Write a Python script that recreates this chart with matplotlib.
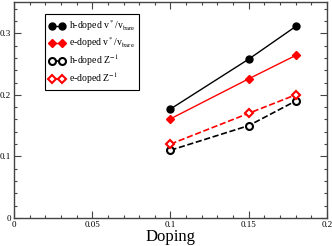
import matplotlib
matplotlib.use("Agg")
import matplotlib.pyplot as plt
from matplotlib.ticker import MultipleLocator, FuncFormatter

doping = [0.10, 0.15, 0.18]
h_v = [0.177, 0.258, 0.311]
e_v = [0.161, 0.226, 0.264]
h_z = [0.110, 0.150, 0.190]
e_z = [0.120, 0.170, 0.200]
labels = [r"h-doped v$^*$/v$_{\rm bare}$", r"e-doped v$^*$/v$_{\rm bare}$",
          r"h-doped Z$^{-1}$", r"e-doped Z$^{-1}$"]

plt.rcParams['font.family'] = ['Liberation Serif', 'DejaVu Serif']
plt.rcParams['mathtext.fontset'] = 'stix'

fig = plt.figure(figsize=(3.32, 2.46), dpi=100)
ax = fig.add_axes([0.042, 0.114, 0.943, 0.876])

ax.plot(doping, h_v, '-o', color='black', lw=1, ms=5, label=labels[0])
ax.plot(doping, e_v, '-D', color='red', lw=1, ms=4, label=labels[1])
ax.plot(doping, h_z, '--o', color='black', lw=1.2, ms=5, mfc='white', mew=1.5, label=labels[2])
ax.plot(doping, e_z, '--D', color='red', lw=1.2, ms=4, mfc='white', mew=1.5, label=labels[3])

ax.set_xlim(0, 0.2)
ax.set_ylim(0, 0.35)
ax.xaxis.set_major_locator(MultipleLocator(0.05))
ax.xaxis.set_minor_locator(MultipleLocator(0.01))
ax.yaxis.set_major_locator(MultipleLocator(0.1))
ax.yaxis.set_minor_locator(MultipleLocator(0.02))
fmt = FuncFormatter(lambda v, p: '%g' % round(v, 4))
ax.xaxis.set_major_formatter(fmt)
ax.yaxis.set_major_formatter(fmt)
ax.tick_params(which='both', direction='in', top=True, right=True, labelsize=6.5, pad=2, width=0.8, color='#444444')
ax.tick_params(which='major', length=5)
ax.tick_params(which='minor', length=2.5)
for s in ax.spines.values():
    s.set_linewidth(1)
    s.set_color('#444444')
ax.set_xlabel('Doping', fontsize=12, labelpad=0)

leg = ax.legend(loc='upper left', bbox_to_anchor=(0.1, 0.945), numpoints=2, fontsize=7,
                fancybox=False, edgecolor='black', framealpha=1, handlelength=1.6,
                handletextpad=0.4, labelspacing=0.25, borderpad=0.4, borderaxespad=0)
leg.get_frame().set_linewidth(0.8)

fig.savefig('out.png', dpi=100)
